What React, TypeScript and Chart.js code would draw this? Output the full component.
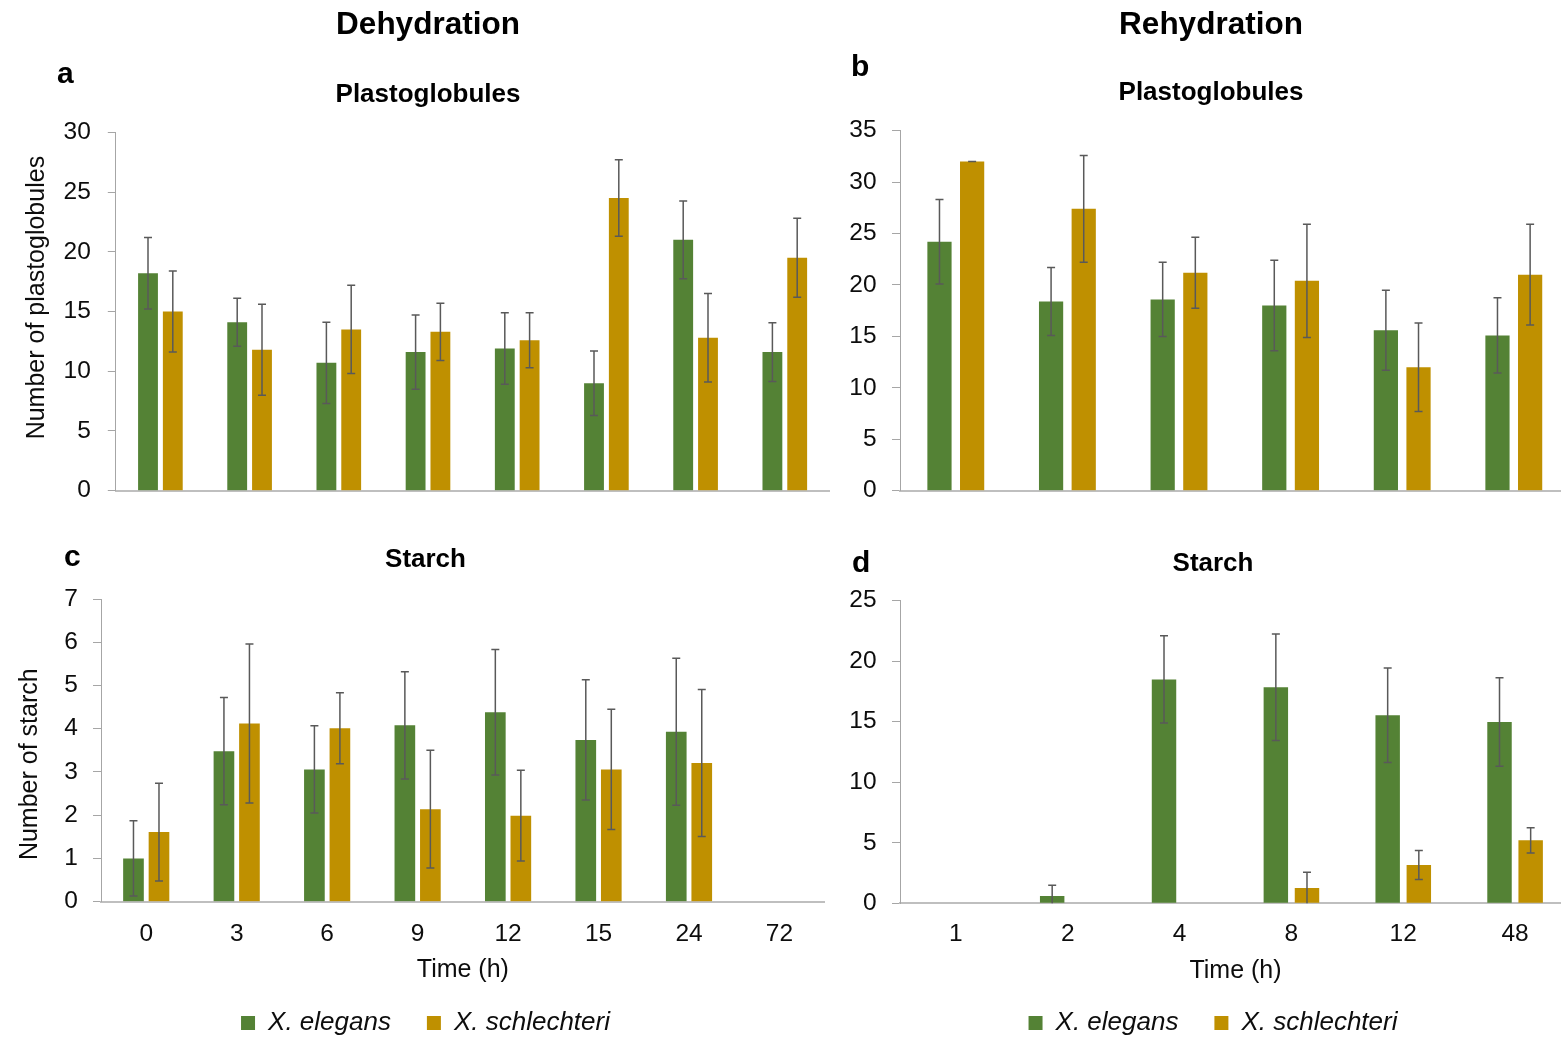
import React, { useEffect, useRef } from 'react';
import { Chart, registerables } from 'chart.js';

Chart.register(...registerables);

const FONT = "'Liberation Sans', Arial, Helvetica, sans-serif";
const TEXT = '#0d0d0d';
const GREEN = '#548235';
const GOLD = '#BF9000';
const AXIS_Y = '#a6a6a6';
const AXIS_X = '#bfbfbf';
const ERR = '#595959';

const seriesNames = ['X. elegans', 'X. schlechteri'];

const dehydrationHours = ['0', '3', '6', '9', '12', '15', '24', '72'];
const rehydrationHours = ['1', '2', '4', '8', '12', '48'];

// (a) Dehydration – plastoglobules
const plastoDehyElegans = [18.2, 14.1, 10.7, 11.6, 11.9, 9.0, 21.0, 11.6];
const plastoDehyElegansErr = [3.0, 2.0, 3.4, 3.1, 3.0, 2.7, 3.25, 2.45];
const plastoDehySchlechteri = [15.0, 11.8, 13.5, 13.3, 12.6, 24.5, 12.8, 19.5];
const plastoDehySchlechteriErr = [3.4, 3.8, 3.7, 2.4, 2.3, 3.2, 3.7, 3.3];

// (b) Rehydration – plastoglobules
const plastoRehyElegans = [24.2, 18.4, 18.6, 18.0, 15.6, 15.1];
const plastoRehyElegansErr = [4.1, 3.3, 3.6, 4.4, 3.9, 3.65];
const plastoRehySchlechteri = [32.0, 27.4, 21.2, 20.4, 12.0, 21.0];
const plastoRehySchlechteriErr = [0, 5.2, 3.45, 5.5, 4.3, 4.9];

// (c) Dehydration – starch
const starchDehyElegans = [1.0, 3.48, 3.06, 4.08, 4.38, 3.74, 3.93, null];
const starchDehyElegansErr = [0.87, 1.24, 1.01, 1.24, 1.45, 1.39, 1.7, null];
const starchDehySchlechteri = [1.61, 4.12, 4.01, 2.14, 1.99, 3.06, 3.21, null];
const starchDehySchlechteriErr = [1.13, 1.84, 0.82, 1.36, 1.05, 1.39, 1.7, null];

// (d) Rehydration – starch
const starchRehyElegans = [0, 0.6, 18.5, 17.84, 15.53, 14.98];
const starchRehyElegansErr = [0, 0.9, 3.6, 4.4, 3.9, 3.66];
const starchRehySchlechteri = [0, 0, 0, 1.27, 3.17, 5.2];
const starchRehySchlechteriErr = [0, 0, 0, 1.3, 1.2, 1.05];

const errorBars = {
  id: 'errorBars',
  afterDatasetsDraw(chart: any) {
    const ctx = chart.ctx;
    const yScale = chart.scales.y;
    ctx.save();
    ctx.strokeStyle = ERR;
    ctx.lineWidth = 1.5;
    chart.data.datasets.forEach((ds: any, i: number) => {
      const meta = chart.getDatasetMeta(i);
      meta.data.forEach((bar: any, j: number) => {
        const v = ds.data[j];
        const e = ds.errors ? ds.errors[j] : null;
        if (v == null || e == null) return;
        if (v === 0 && e === 0) return;
        const x = bar.x;
        const hi = yScale.getPixelForValue(v + e);
        const lowVal = v - e;
        const lo = yScale.getPixelForValue(Math.max(lowVal, 0));
        const cap = 4;
        ctx.beginPath();
        ctx.moveTo(x, hi);
        ctx.lineTo(x, lo);
        ctx.moveTo(x - cap, hi);
        ctx.lineTo(x + cap, hi);
        if (lowVal > 0) {
          ctx.moveTo(x - cap, lo);
          ctx.lineTo(x + cap, lo);
        }
        ctx.stroke();
      });
    });
    ctx.restore();
  },
};

type TitleSpec = { text: string; size: number; top: number; bottom: number };

type PanelSpec = {
  left: number;
  top: number;
  width: number;
  height: number;
  labels: string[];
  green: (number | null)[];
  greenErr: (number | null)[];
  gold: (number | null)[];
  goldErr: (number | null)[];
  yMax: number;
  yStep: number;
  catPct: number;
  barPct: number;
  pad: { left: number; right: number; top: number; bottom: number };
  yWidth: number;
  yTickPad: number;
  rightSpace?: number;
  yTitle?: string;
  yTitlePad?: number;
  title: TitleSpec;
  subtitle?: TitleSpec;
  xTicks: boolean;
  xHeight: number;
  xTickPad?: number;
  xTitle?: string;
  xTitlePad?: number;
  legend: boolean;
};

const font = (size: number, extra: any = {}) => ({ family: FONT, size, ...extra });

function buildConfig(s: PanelSpec): any {
  const scales: any = {
    x: {
      grid: { display: false },
      border: { display: true, color: AXIS_X, width: 2 },
      ticks: {
        display: s.xTicks,
        font: font(24.5),
        color: TEXT,
        padding: s.xTickPad ?? 0,
        maxRotation: 0,
        autoSkip: false,
      },
      title: s.xTitle
        ? {
            display: true,
            text: s.xTitle,
            color: TEXT,
            font: font(25),
            padding: { top: 0, bottom: s.xTitlePad ?? 0 },
          }
        : { display: false },
      afterFit: (sc: any) => {
        sc.height = s.xHeight;
      },
    },
    y: {
      min: 0,
      max: s.yMax,
      grid: {
        display: true,
        drawOnChartArea: false,
        drawTicks: true,
        tickLength: 8,
        color: AXIS_Y,
        lineWidth: 1,
      },
      border: { display: true, color: AXIS_Y, width: 1 },
      ticks: {
        stepSize: s.yStep,
        font: font(24.5),
        color: TEXT,
        padding: s.yTickPad,
      },
      title: s.yTitle
        ? {
            display: true,
            text: s.yTitle,
            color: TEXT,
            font: font(25),
            padding: { top: s.yTitlePad ?? 0, bottom: 0 },
          }
        : { display: false },
      afterFit: (sc: any) => {
        sc.width = s.yWidth;
      },
    },
  };
  if (s.rightSpace) {
    // empty spacer axis on the right so the centred titles/legend line up
    scales.ySpace = {
      type: 'linear',
      axis: 'y',
      position: 'right',
      display: true,
      grid: { display: false },
      border: { display: false },
      ticks: { display: false },
      afterFit: (sc: any) => {
        sc.width = s.rightSpace;
      },
    };
  }
  return {
    type: 'bar',
    data: {
      labels: s.labels,
      datasets: [
        {
          label: seriesNames[0],
          data: s.green,
          errors: s.greenErr,
          backgroundColor: GREEN,
          borderWidth: 0,
          categoryPercentage: s.catPct,
          barPercentage: s.barPct,
        },
        {
          label: seriesNames[1],
          data: s.gold,
          errors: s.goldErr,
          backgroundColor: GOLD,
          borderWidth: 0,
          categoryPercentage: s.catPct,
          barPercentage: s.barPct,
        },
      ],
    },
    options: {
      responsive: false,
      maintainAspectRatio: false,
      animation: false,
      devicePixelRatio: 1,
      events: [],
      layout: { padding: s.pad },
      plugins: {
        title: {
          display: true,
          text: s.title.text,
          color: '#000',
          font: font(s.title.size, { weight: 'bold' }),
          padding: { top: s.title.top, bottom: s.title.bottom },
        },
        subtitle: s.subtitle
          ? {
              display: true,
              text: s.subtitle.text,
              color: '#000',
              font: font(s.subtitle.size, { weight: 'bold' }),
              padding: { top: s.subtitle.top, bottom: s.subtitle.bottom },
            }
          : { display: false },
        legend: s.legend
          ? {
              display: true,
              position: 'bottom',
              labels: {
                boxWidth: 14,
                boxHeight: 14,
                padding: 36,
                color: TEXT,
                font: font(26, { style: 'italic' }),
              },
            }
          : { display: false },
        tooltip: { enabled: false },
      },
      scales,
    },
    plugins: [errorBars],
  };
}

const panelA: PanelSpec = {
  left: 0,
  top: 0,
  width: 854,
  height: 524,
  labels: dehydrationHours,
  green: plastoDehyElegans,
  greenErr: plastoDehyElegansErr,
  gold: plastoDehySchlechteri,
  goldErr: plastoDehySchlechteriErr,
  yMax: 30,
  yStep: 5,
  catPct: 0.556,
  barPct: 0.8,
  pad: { left: 26.6, right: 24.6, top: 0, bottom: 33.3 },
  yWidth: 89.2,
  yTickPad: 17,
  yTitle: '    Number of plastoglobules',
  yTitlePad: -4.6,
  title: { text: 'Dehydration', size: 31.5, top: 6.1, bottom: 0 },
  subtitle: { text: 'Plastoglobules', size: 26, top: 35.8, bottom: 21.4 },
  xTicks: false,
  xHeight: 0,
  legend: false,
};

const panelB: PanelSpec = {
  left: 800,
  top: 0,
  width: 780,
  height: 524,
  labels: rehydrationHours,
  green: plastoRehyElegans,
  greenErr: plastoRehyElegansErr,
  gold: plastoRehySchlechteri,
  goldErr: plastoRehySchlechteriErr,
  yMax: 35,
  yStep: 5,
  catPct: 0.585,
  barPct: 0.742,
  pad: { left: 45, right: 3, top: 0, bottom: 33.3 },
  yWidth: 55,
  yTickPad: 15.4,
  rightSpace: 7.4,
  title: { text: 'Rehydration', size: 31.5, top: 6.1, bottom: 0 },
  subtitle: { text: 'Plastoglobules', size: 26, top: 33.3, bottom: 22.3 },
  xTicks: false,
  xHeight: 0,
  legend: false,
};

const panelC: PanelSpec = {
  left: 0,
  top: 530,
  width: 852,
  height: 516,
  labels: dehydrationHours,
  green: starchDehyElegans,
  greenErr: starchDehyElegansErr,
  gold: starchDehySchlechteri,
  goldErr: starchDehySchlechteriErr,
  yMax: 7,
  yStep: 1,
  catPct: 0.564,
  barPct: 0.81,
  pad: { left: 26.3, right: 27.3, top: 0, bottom: 0 },
  yWidth: 74.7,
  yTickPad: 15,
  yTitle: 'Number of starch    ',
  yTitlePad: -11.3,
  title: { text: 'Starch', size: 26, top: 14.4, bottom: 23.4 },
  xTicks: true,
  xHeight: 72.3,
  xTickPad: 10,
  xTitle: 'Time (h)',
  xTitlePad: -11.2,
  legend: true,
};

const panelD: PanelSpec = {
  left: 800,
  top: 530,
  width: 781,
  height: 516,
  labels: rehydrationHours,
  green: starchRehyElegans,
  greenErr: starchRehyElegansErr,
  gold: starchRehySchlechteri,
  goldErr: starchRehySchlechteriErr,
  yMax: 25,
  yStep: 5,
  catPct: 0.557,
  barPct: 0.785,
  pad: { left: 45, right: 0, top: 0, bottom: 0 },
  yWidth: 55,
  yTickPad: 15.4,
  rightSpace: 10,
  title: { text: 'Starch', size: 26, top: 18.4, bottom: 21.1 },
  xTicks: true,
  xHeight: 70.7,
  xTickPad: 8.5,
  xTitle: 'Time (h)',
  xTitlePad: -12,
  legend: true,
};

function Panel({ spec }: { spec: PanelSpec }) {
  const ref = useRef<HTMLCanvasElement | null>(null);
  useEffect(() => {
    if (!ref.current) return;
    const chart = new Chart(ref.current, buildConfig(spec));
    return () => chart.destroy();
  }, [spec]);
  return (
    <canvas
      ref={ref}
      width={spec.width}
      height={spec.height}
      style={{
        position: 'absolute',
        left: spec.left,
        top: spec.top,
        width: spec.width,
        height: spec.height,
      }}
    />
  );
}

const letterStyle = (left: number, top: number): React.CSSProperties => ({
  position: 'absolute',
  left,
  top,
  fontFamily: FONT,
  fontWeight: 'bold',
  fontSize: 30,
  lineHeight: '30px',
  color: '#000',
  margin: 0,
});

export default function App() {
  return (
    <div
      style={{
        position: 'absolute',
        left: 0,
        top: 0,
        width: 1561,
        height: 1037,
        overflow: 'hidden',
        background: '#fff',
      }}
    >
      <Panel spec={panelA} />
      <Panel spec={panelB} />
      <Panel spec={panelC} />
      <Panel spec={panelD} />
      <div style={letterStyle(57, 57.9)}>a</div>
      <div style={letterStyle(851, 51.3)}>b</div>
      <div style={letterStyle(64, 541.3)}>c</div>
      <div style={letterStyle(852, 546.6)}>d</div>
    </div>
  );
}
